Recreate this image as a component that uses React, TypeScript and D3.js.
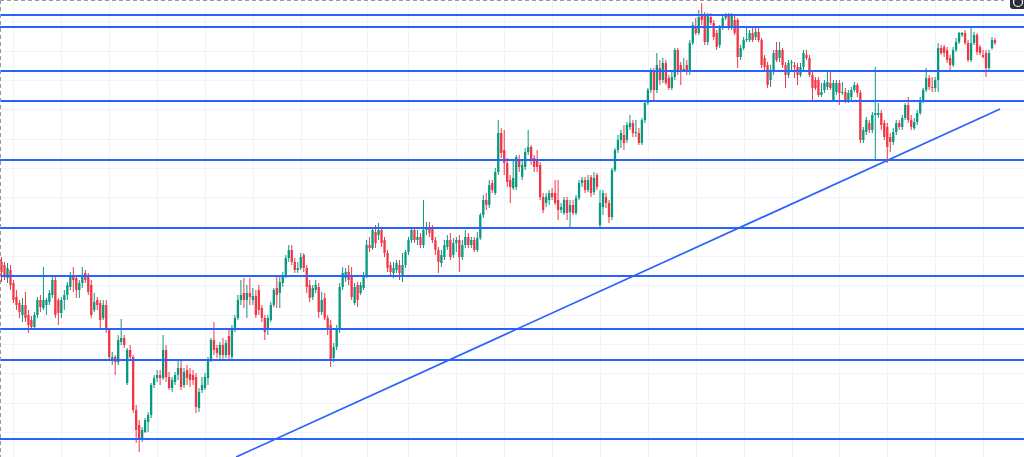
import React from "react";
import * as d3 from "d3";

// Each candle: [open, high, low, close] in price points
const seg1: number[][] = [
  [238, 243, 218, 228], [235, 238, 220, 225], [222, 237, 217, 232], [230, 235, 210, 215],
  [217, 220, 197, 200], [203, 210, 190, 195], [197, 200, 182, 188], [185, 202, 178, 195],
  [195, 208, 178, 182], [185, 190, 167, 175], [180, 184, 170, 173], [173, 188, 172, 185],
  [185, 203, 182, 200], [200, 205, 188, 193], [192, 233, 190, 200], [195, 202, 185, 200],
  [198, 210, 195, 207], [205, 223, 202, 220], [220, 223, 182, 185], [200, 202, 175, 187],
  [187, 203, 182, 200], [200, 210, 190, 205], [205, 218, 200, 215], [213, 228, 210, 223],
  [225, 233, 208, 220], [222, 225, 202, 210], [210, 220, 202, 217], [217, 233, 212, 225],
  [227, 230, 217, 220],
];
const seg2: number[][] = [
  [224, 227, 205, 208], [215, 220, 182, 185], [190, 207, 188, 198], [200, 203, 190, 195],
  [197, 200, 170, 180], [182, 200, 180, 195], [195, 200, 167, 170], [170, 172, 140, 143],
  [140, 148, 135, 143], [143, 145, 125, 138], [138, 165, 135, 160], [158, 181, 155, 162],
  [162, 165, 152, 155], [117, 152, 115, 150], [150, 155, 140, 143], [143, 145, 87, 90],
  [90, 95, 57, 70], [75, 80, 48, 62], [60, 73, 58, 70], [68, 82, 67, 80],
  [78, 88, 68, 85], [85, 117, 82, 115], [115, 125, 112, 122], [122, 130, 118, 125],
  [125, 130, 115, 122], [122, 165, 120, 150], [150, 155, 118, 123], [123, 128, 110, 112],
];
const seg3: number[][] = [
  [112, 123, 108, 120], [118, 128, 115, 125], [125, 140, 120, 132], [132, 140, 110, 113],
  [115, 132, 112, 128], [130, 135, 115, 122], [126, 132, 113, 120], [125, 130, 115, 120],
  [123, 127, 87, 93], [92, 112, 88, 108], [110, 123, 107, 115], [112, 127, 110, 123],
  [122, 143, 115, 140], [140, 162, 138, 160], [160, 178, 145, 150], [152, 155, 142, 147],
  [145, 158, 140, 155], [155, 162, 140, 145], [145, 160, 142, 157], [164, 170, 140, 145],
  [143, 175, 140, 170], [170, 185, 168, 182], [182, 205, 180, 200], [200, 220, 195, 205],
  [207, 222, 192, 200], [200, 215, 182, 207], [207, 222, 195, 203], [200, 212, 195, 204],
  [204, 210, 182, 185],
];
const seg4: number[][] = [
  [210, 215, 185, 190], [192, 195, 178, 182], [182, 185, 160, 168], [170, 185, 165, 182],
  [180, 198, 178, 195], [195, 212, 193, 210], [212, 225, 192, 205], [207, 225, 192, 218],
  [217, 228, 213, 225], [225, 245, 222, 242], [242, 255, 238, 250], [250, 255, 235, 238],
  [238, 242, 227, 230], [230, 238, 227, 232], [232, 247, 230, 243], [245, 247, 228, 232],
  [232, 235, 207, 213], [215, 220, 198, 202], [203, 215, 200, 212], [210, 220, 207, 215],
  [213, 217, 182, 188], [188, 208, 185, 200], [202, 207, 180, 182], [182, 185, 165, 170],
  [175, 180, 133, 140], [142, 157, 138, 153], [153, 175, 150, 170], [170, 217, 167, 213],
  [213, 233, 210, 227],
];
const seg5: number[][] = [
  [222, 232, 218, 228], [228, 235, 215, 220], [225, 233, 200, 203], [197, 217, 195, 213],
  [215, 218, 193, 200], [207, 218, 205, 215], [212, 228, 210, 225], [225, 260, 222, 255],
  [255, 263, 248, 252], [252, 273, 250, 270], [268, 275, 252, 257], [265, 277, 260, 270],
  [270, 273, 253, 257], [260, 263, 243, 247], [247, 250, 228, 232], [235, 238, 225, 228],
  [227, 238, 222, 232], [230, 240, 227, 237], [235, 240, 220, 227], [225, 247, 218, 235],
  [235, 250, 232, 248], [248, 263, 245, 260], [260, 272, 257, 270], [270, 272, 257, 260],
  [260, 270, 255, 263], [263, 267, 252, 255], [255, 300, 252, 270], [270, 278, 265, 273],
  [273, 278, 263, 267],
];
const seg6: number[][] = [
  [272, 275, 257, 260], [260, 263, 245, 250], [250, 253, 227, 238], [237, 250, 233, 245],
  [243, 260, 240, 255], [253, 265, 250, 260], [260, 267, 240, 243], [245, 262, 242, 257],
  [257, 263, 248, 260], [260, 265, 228, 243], [243, 260, 240, 255], [255, 270, 252, 263],
  [263, 267, 252, 255], [255, 263, 252, 260], [260, 263, 248, 250], [250, 268, 248, 262],
  [262, 287, 260, 285], [285, 305, 282, 300], [300, 307, 290, 295], [295, 320, 292, 315],
  [317, 320, 307, 310], [307, 332, 305, 328], [328, 380, 325, 367], [367, 372, 342, 347],
  [350, 370, 325, 337], [337, 342, 313, 318], [320, 325, 297, 313], [312, 340, 310, 322],
];
const seg7: number[][] = [
  [313, 345, 310, 343], [340, 345, 328, 333], [323, 340, 320, 335], [333, 352, 330, 348],
  [348, 370, 345, 353], [353, 355, 335, 340], [342, 345, 328, 333], [340, 350, 328, 333],
  [335, 338, 300, 303], [303, 307, 287, 290], [297, 307, 293, 303], [300, 310, 295, 307],
  [307, 312, 300, 303], [307, 320, 295, 297], [300, 320, 280, 290], [290, 297, 287, 293],
  [287, 303, 285, 300], [300, 303, 280, 287], [288, 300, 272, 295], [295, 300, 285, 287],
  [287, 305, 285, 302], [302, 320, 300, 317], [317, 323, 313, 320], [320, 323, 307, 310],
  [310, 325, 308, 320], [323, 325, 303, 307], [308, 328, 305, 322], [325, 327, 310, 313],
  [275, 310, 273, 297],
];
const seg8: number[][] = [
  [293, 310, 285, 307], [303, 307, 292, 297], [297, 300, 277, 283], [283, 332, 280, 330],
  [330, 352, 328, 350], [350, 365, 347, 360], [360, 370, 352, 367], [365, 375, 350, 357],
  [360, 378, 357, 375], [373, 385, 370, 377], [377, 380, 363, 367], [367, 380, 363, 368],
  [367, 372, 355, 357], [357, 382, 355, 380], [380, 400, 377, 397], [397, 412, 395, 410],
  [410, 432, 407, 428], [428, 432, 400, 410], [410, 447, 407, 435], [432, 440, 415, 420],
  [420, 442, 417, 437], [437, 440, 415, 417], [422, 425, 410, 412], [412, 430, 410, 423],
  [423, 452, 420, 450], [450, 452, 425, 430], [435, 438, 415, 428], [430, 442, 428, 431],
  [435, 440, 425, 428],
];
const seg9: number[][] = [
  [428, 460, 425, 457], [457, 478, 455, 475], [472, 482, 465, 467], [467, 490, 465, 483],
  [485, 497, 475, 480], [485, 488, 455, 458], [458, 487, 455, 485], [483, 487, 475, 477],
  [477, 480, 460, 463], [467, 470, 450, 453], [455, 475, 452, 473], [473, 485, 470, 482],
  [482, 487, 480, 485], [485, 487, 470, 473], [473, 487, 470, 485], [480, 485, 465, 467],
  [480, 482, 432, 443], [443, 455, 440, 452], [452, 463, 450, 460], [460, 472, 458, 461],
  [460, 470, 458, 467], [467, 472, 458, 460], [463, 472, 460, 468], [468, 472, 458, 460],
  [460, 462, 432, 435], [442, 445, 430, 433], [435, 438, 412, 415], [420, 435, 413, 428],
];
const seg10: number[][] = [
  [428, 450, 425, 447], [450, 458, 438, 440], [442, 458, 438, 450], [450, 452, 432, 435],
  [435, 438, 412, 425], [425, 440, 422, 437], [437, 440, 428, 438], [435, 438, 422, 433],
  [433, 437, 415, 425], [425, 437, 423, 433], [433, 450, 430, 447], [445, 450, 440, 442],
  [442, 445, 423, 425], [425, 428, 400, 412], [420, 423, 410, 412], [420, 423, 403, 405],
  [405, 417, 403, 408], [410, 420, 407, 417], [413, 428, 410, 418], [417, 428, 410, 412],
  [400, 420, 398, 417], [408, 420, 405, 417], [417, 420, 395, 407], [407, 418, 405, 408],
  [408, 412, 397, 400], [400, 410, 397, 407], [403, 413, 400, 410], [410, 418, 408, 415],
  [415, 417, 403, 407],
];
const seg11: number[][] = [
  [407, 410, 357, 360], [360, 373, 357, 370], [368, 383, 365, 380], [377, 380, 367, 370],
  [370, 388, 367, 385], [385, 433, 340, 387], [385, 397, 382, 387], [387, 390, 370, 375],
  [377, 380, 360, 363], [373, 377, 337, 353], [363, 367, 348, 358], [358, 372, 355, 368],
  [368, 380, 365, 377], [377, 380, 370, 373], [373, 385, 370, 382], [382, 397, 380, 395],
  [395, 403, 377, 380], [380, 385, 370, 373], [372, 382, 370, 378], [378, 390, 375, 387],
  [387, 403, 385, 400], [400, 412, 397, 410], [410, 432, 408, 422], [422, 425, 410, 413],
  [413, 423, 408, 412], [412, 423, 408, 420], [420, 457, 408, 452], [452, 455, 445, 447],
];
const seg12: number[][] = [
  [453, 455, 443, 447], [450, 453, 437, 440], [442, 445, 428, 435], [435, 453, 433, 450],
  [450, 462, 448, 458], [458, 468, 456, 467], [465, 468, 463, 467], [467, 470, 455, 457],
  [457, 460, 438, 440], [440, 472, 438, 457], [457, 468, 455, 465], [465, 467, 445, 448],
  [453, 455, 445, 447], [445, 450, 442, 443], [447, 450, 423, 432], [432, 450, 430, 447],
  [452, 463, 450, 460], [460, 462, 455, 457],
];

// Horizontal support / resistance levels
const levels = [485, 473, 429, 399, 340, 272, 224, 171, 140, 61];
// Trend line anchors (candle index, price)
const trendStart = { i: 78.4, p: 43 };
const trendEnd = { i: 333.7, p: 391 };
// Grid
const timeGridIdx = [4, 20, 36, 52, 68, 84, 100, 122, 136, 152, 168, 184, 200, 216, 232, 248, 264, 280, 296, 312, 328];
const priceGrid = [478.7, 449.3, 420, 390.7, 361.3, 332, 302.7, 273.3, 244, 214.7, 185.3, 156, 126.7, 97.3, 68];

const W = 1024;
const H = 457;
const UP = "#089981";
const DOWN = "#F23645";
const BLUE = "#2962FF";

export default function App() {
  const candles = [
    ...seg1, ...seg2, ...seg3, ...seg4, ...seg5, ...seg6,
    ...seg7, ...seg8, ...seg9, ...seg10, ...seg11, ...seg12,
  ];
  const x = d3.scaleLinear().domain([0, 333]).range([1.5, 998]);
  const y = d3.scaleLinear().domain([43, 500]).range([H, 0]);
  const bodyW = 2.3;

  const trendPath = d3.line<{ i: number; p: number }>()
    .x((d) => x(d.i))
    .y((d) => y(d.p))([trendStart, trendEnd]);

  return (
    <svg
      width={W}
      height={H}
      style={{ position: "fixed", top: 0, left: 0, background: "#ffffff" }}
    >
      <rect x={0} y={0} width={W} height={H} fill="#ffffff" />
      {priceGrid.map((p, k) => (
        <line key={"pg" + k} x1={0} x2={W} y1={Math.round(y(p)) + 0.5} y2={Math.round(y(p)) + 0.5} stroke="#f0f3fa" strokeWidth={1} />
      ))}
      {timeGridIdx.map((i, k) => (
        <line key={"tg" + k} x1={Math.round(x(i)) + 0.5} x2={Math.round(x(i)) + 0.5} y1={0} y2={H} stroke="#f0f3fa" strokeWidth={1} />
      ))}
      {candles.map((c, k) => {
        const [o, h, l, cl] = c;
        const up = cl >= o;
        const col = up ? UP : DOWN;
        const xc = x(k);
        const top = y(Math.max(o, cl));
        const bot = y(Math.min(o, cl));
        return (
          <g key={"c" + k}>
            <line x1={xc} x2={xc} y1={y(h)} y2={y(l)} stroke={col} strokeWidth={1} />
            <rect x={xc - bodyW / 2} y={top} width={bodyW} height={Math.max(1, bot - top)} fill={col} />
          </g>
        );
      })}
      {levels.map((p, k) => (
        <line key={"lv" + k} x1={0} x2={W} y1={y(p)} y2={y(p)} stroke={BLUE} strokeWidth={1.8} />
      ))}
      <path d={trendPath || ""} stroke={BLUE} strokeWidth={1.7} fill="none" />
      <line x1={0} x2={1004} y1={0.5} y2={0.5} stroke="#9598a1" strokeWidth={1} strokeDasharray="4 3" />
      <line x1={0.5} x2={0.5} y1={0} y2={H} stroke="#9598a1" strokeWidth={1} strokeDasharray="4 3" />
      <rect x={1010} y={-6} width={16} height={15} rx={3} fill="#2a2e39" />
      <circle cx={1018} cy={2} r={4.5} fill="none" stroke="#ffffff" strokeWidth={1.2} />
    </svg>
  );
}
